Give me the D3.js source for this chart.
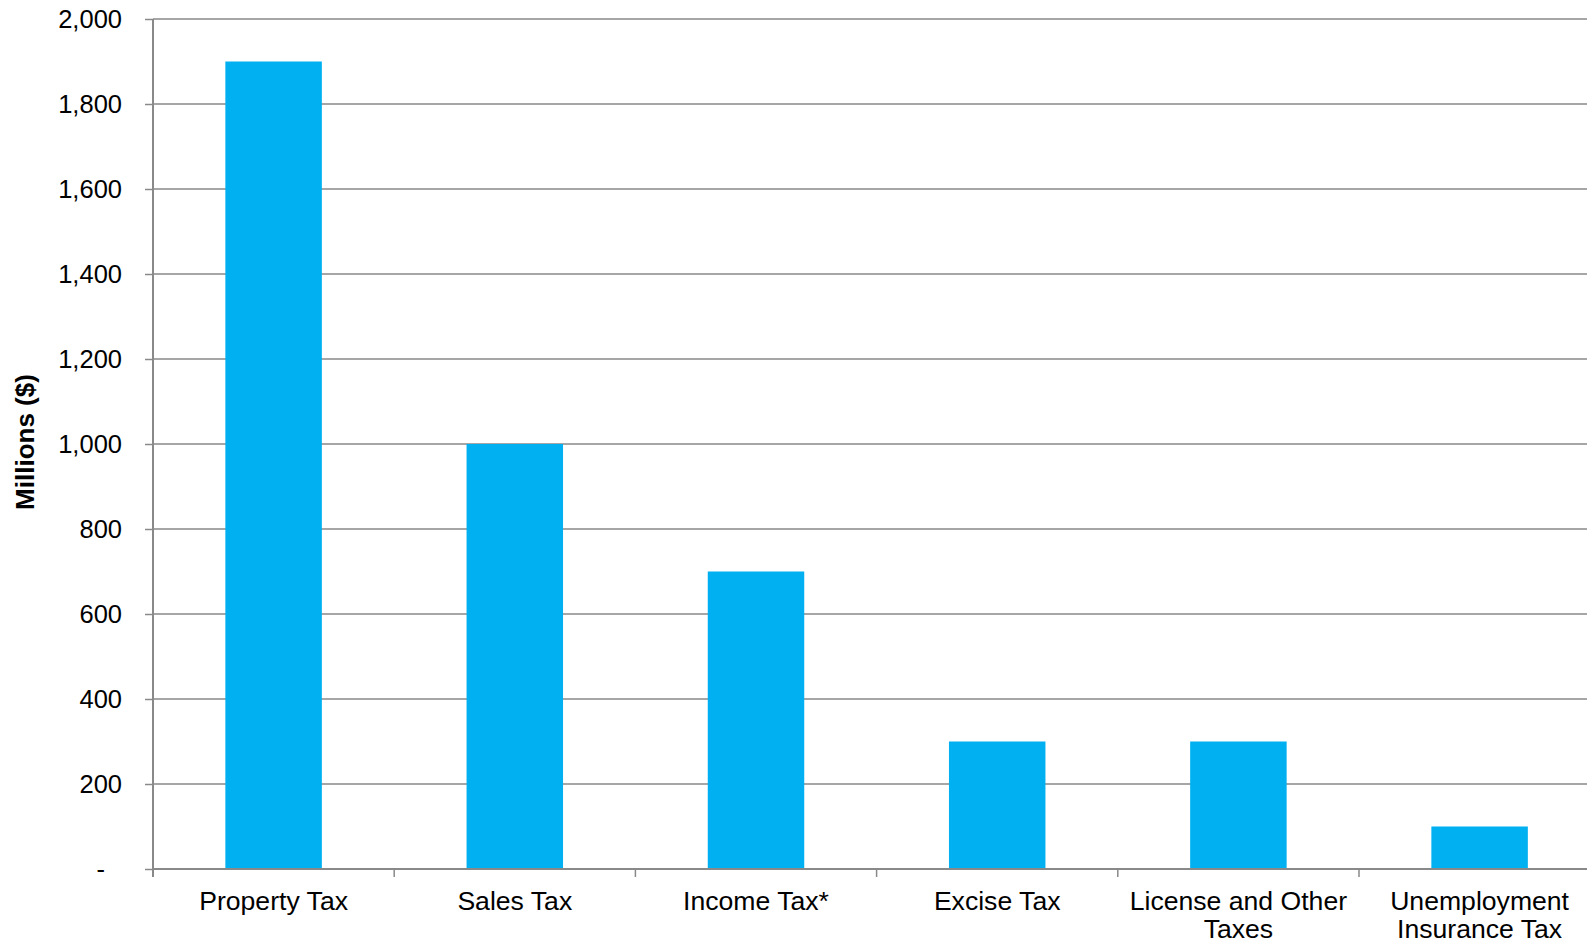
<!DOCTYPE html>
<html>
<head>
<meta charset="utf-8">
<script src="https://cdn.jsdelivr.net/npm/d3@7"></script>
<style>
    body { margin: 0; background: #fff; }
    svg { display: block; font-family: "Liberation Sans", Arial, sans-serif; }
</style>
</head>
<body>
<div id="chart"></div>
<script>
// chart data
const categories = ["Property Tax", "Sales Tax", "Income Tax*", "Excise Tax", "License and Other Taxes", "Unemployment Insurance Tax"]
const labelLines = [["Property Tax"], ["Sales Tax"], ["Income Tax*"], ["Excise Tax"], ["License and Other", "Taxes"], ["Unemployment", "Insurance Tax"]]
const values = [1900, 1000, 700, 300, 300, 100]
const yTicks = [0, 200, 400, 600, 800, 1000, 1200, 1400, 1600, 1800, 2000]

const width = 1587
const height = 944
const plotLeft = 153
const plotTop = 19
const plotBottom = 869
const bandStep = 241.2

const $svg = d3.select("#chart").append("svg")
    .attr("width", width)
    .attr("height", height)

const xScale = d3.scaleBand()
    .domain(categories)
    .range([plotLeft, plotLeft + bandStep * categories.length])
    .paddingInner(0.6)
    .paddingOuter(0.3)

const yScale = d3.scaleLinear()
    .domain([0, 2000])
    .range([plotBottom, plotTop])

//gridlines
$svg.append("g")
    .selectAll("line")
    .data(yTicks.filter(d => d > 0))
    .join("line")
    .attr("x1", plotLeft)
    .attr("x2", width)
    .attr("y1", d => yScale(d))
    .attr("y2", d => yScale(d))
    .attr("stroke", "#898989")
    .attr("stroke-width", 1.5)

//y axis
const yAxis = g => g.attr("transform", `translate(${plotLeft}, 0)`)
    .call(d3.axisLeft(yScale).tickValues(yTicks).tickSize(8).tickPadding(23)
        .tickFormat(d => d === 0 ? "-" : d3.format(",")(d)))
    .call(g => g.select(".domain").remove())
    .call(g => g.selectAll(".tick line").attr("stroke", "#898989").attr("stroke-width", 1.5))
    .call(g => g.selectAll(".tick text").attr("font-size", 25.5).attr("fill", "#000")
        .attr("font-family", "Liberation Sans, Arial, sans-serif"))
    .call(g => g.selectAll(".tick").filter(d => d === 0).select("text").attr("dx", -17))

$svg.append("g").call(yAxis)

//bars
$svg.selectAll(".bar")
    .data(categories)
    .join("rect")
    .attr("class", "bar")
    .attr("x", d => xScale(d))
    .attr("width", xScale.bandwidth())
    .attr("y", (d, i) => yScale(values[i]))
    .attr("height", (d, i) => yScale(0) - yScale(values[i]))
    .attr("fill", "#00B0F0")

//x axis line and category ticks
$svg.append("line")
    .attr("x1", plotLeft).attr("x2", width)
    .attr("y1", plotBottom).attr("y2", plotBottom)
    .attr("stroke", "#898989").attr("stroke-width", 2)

$svg.append("line")
    .attr("x1", plotLeft).attr("x2", plotLeft)
    .attr("y1", plotTop).attr("y2", plotBottom + 8)
    .attr("stroke", "#898989").attr("stroke-width", 2)

$svg.selectAll(".xtick")
    .data(d3.range(categories.length + 1))
    .join("line")
    .attr("class", "xtick")
    .attr("x1", i => plotLeft + i * bandStep)
    .attr("x2", i => plotLeft + i * bandStep)
    .attr("y1", plotBottom)
    .attr("y2", plotBottom + 8)
    .attr("stroke", "#898989")
    .attr("stroke-width", 1.5)

const $labels = $svg.selectAll(".xlabel")
    .data(categories)
    .join("text")
    .attr("class", "xlabel")
    .attr("text-anchor", "middle")
    .attr("font-size", 26.6)
    .attr("fill", "#000")

$labels.selectAll("tspan")
    .data((d, i) => labelLines[i].map(t => ({ t, x: xScale(d) + xScale.bandwidth() / 2 })))
    .join("tspan")
    .attr("x", d => d.x)
    .attr("y", (d, j) => 910 + j * 28)
    .text(d => d.t)

//y title
$svg.append("text")
    .attr("transform", "translate(34, 442) rotate(-90)")
    .attr("text-anchor", "middle")
    .attr("font-size", 26)
    .attr("font-weight", "bold")
    .text("Millions ($)")
</script>
</body>
</html>
